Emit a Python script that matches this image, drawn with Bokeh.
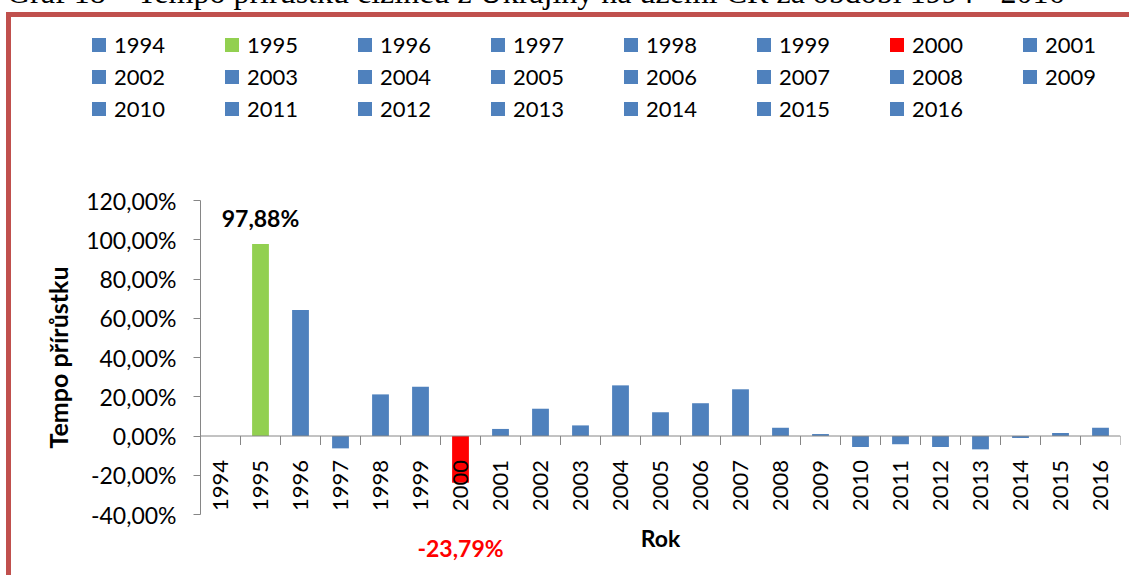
import math
from bokeh.plotting import figure
from bokeh.layouts import column
from bokeh.models import (FactorRange, Range1d, ColumnDataSource, FixedTicker, Span, Div)
from bokeh.core.properties import value
from bokeh.embed import file_html
from bokeh.resources import INLINE

# ---- data ----
caption = "Graf 18 – Tempo přírůstku cizinců z Ukrajiny na území ČR za období 1994 - 2016"
years = [str(y) for y in range(1994, 2017)]
growth = [0.0, 97.88, 64.2, -6.3, 21.2, 25.1, -23.79, 3.6, 13.9, 5.4, 25.8,
          12.1, 16.7, 23.8, 4.2, 1.0, -5.6, -4.2, -5.6, -6.8, -1.0, 1.5, 4.2]
y_ticks = [-40, -20, 0, 20, 40, 60, 80, 100, 120]
y_tick_labels = ["-40,00%", "-20,00%", "0,00%", "20,00%", "40,00%",
                 "60,00%", "80,00%", "100,00%", "120,00%"]
max_year, max_label = "1995", "97,88%"
min_year, min_label = "2000", "-23,79%"
x_title = "Rok"
y_title = "Tempo přírůstku"

# ---- style ----
BLUE, GREEN, RED = "#4F81BD", "#92D050", "#FF0000"
AXIS = "#868686"
BORDER = "5px solid #C0504D"
FONT = "Lato"
colors = [GREEN if y == max_year else RED if y == min_year else BLUE for y in years]

W = 1118
LH = 120                     # legend strip height
H = 438                      # chart height
ML, MR = 189, 9
PX_PER_UNIT = 314 / 160      # vertical scale of the reference
Y_TOP_PX = 63                # canvas y of the top tick
pad_px = H - (Y_TOP_PX + (y_ticks[-1] - y_ticks[0]) * PX_PER_UNIT)
MT = int(round(Y_TOP_PX - pad_px))
y_lo = y_ticks[0] - pad_px / PX_PER_UNIT
y_hi = y_ticks[-1] + pad_px / PX_PER_UNIT

# ---- legend strip (3 rows x 8 columns), HTML ----
NCOLS, COL_PITCH, ROW_PITCH = 8, 133, 32
LX0, LY0, SQ, STANDOFF, ITEM_H = 81, 15, 14, 8, 26
items_html = []
for i, (yr, c) in enumerate(zip(years, colors)):
    x = LX0 + (i % NCOLS) * COL_PITCH
    y = LY0 + (i // NCOLS) * ROW_PITCH
    items_html.append(
        f'<div style="position:absolute;left:{x}px;top:{y}px;height:{ITEM_H}px;'
        f'display:flex;align-items:center;white-space:nowrap;font-family:{FONT};'
        f'font-size:22px;line-height:{ITEM_H}px;color:black;">'
        f'<span style="display:inline-block;width:{SQ}px;height:{SQ}px;background:{c};'
        f'margin-right:{STANDOFF}px;"></span>{yr}</div>')
leg = Div(text=f'<div style="position:relative;width:{W}px;height:{LH}px;">'
               + "".join(items_html) + "</div>",
          width=W, height=LH, styles={"margin": "0", "padding": "0"})

# ---- chart ----
src = ColumnDataSource(dict(year=years, val=growth, color=colors))
p = figure(width=W, height=H, x_range=FactorRange(factors=years, range_padding=0),
           y_range=Range1d(y_lo, y_hi), x_axis_location=None,
           output_backend="svg", toolbar_location=None,
           min_border_left=ML, min_border_right=MR, min_border_top=MT, min_border_bottom=0)
p.outline_line_color = None
p.grid.visible = False

bars = p.vbar(x="year", top="val", width=0.42, fill_color="color", line_color=None, source=src)

# zero line and category ticks
p.add_layout(Span(location=0, dimension="width", line_color=AXIS, line_width=1))
bnd = list(range(1, len(years) + 1))
tick_len = 9 / PX_PER_UNIT
p.segment(x0=bnd, y0=[0] * len(bnd), x1=bnd, y1=[-tick_len] * len(bnd),
          line_color=AXIS, line_width=1)

# category labels at the zero line
p.text(x=years, y=[0] * len(years), text=years, angle=math.pi / 2,
       text_align="right", text_baseline="middle", y_offset=24,
       text_font=value(FONT), text_font_size="22px", text_color="black")

# value labels
p.text(x=[max_year], y=[growth[years.index(max_year)]], text=[max_label],
       text_align="center", text_baseline="middle", y_offset=-26,
       text_font=value(FONT), text_font_size="23px", text_font_style="bold",
       text_color="black")
p.text(x=[min_year], y=[growth[years.index(min_year)]], text=[min_label],
       text_align="center", text_baseline="middle", y_offset=65,
       text_font=value(FONT), text_font_size="23px", text_font_style="bold",
       text_color=RED)

# x title under the category labels
p.text(x=[len(years) / 2], y=[y_ticks[0]], text=[x_title],
       text_align="center", text_baseline="middle", y_offset=23,
       text_font=value(FONT), text_font_size="23px", text_font_style="bold",
       text_color="black")

# y axis
ya = p.yaxis[0]
ya.ticker = FixedTicker(ticks=y_ticks)
ya.bounds = (y_ticks[0], y_ticks[-1])
ya.major_label_overrides = {t: l for t, l in zip(y_ticks, y_tick_labels)}
ya.axis_line_color = AXIS
ya.major_tick_line_color = AXIS
ya.minor_tick_line_color = None
ya.major_tick_out = 7
ya.major_tick_in = 0
ya.major_label_standoff = 17
ya.major_label_text_font = FONT
ya.major_label_text_font_size = "23px"
ya.major_label_text_color = "black"
ya.axis_label = y_title
ya.axis_label_text_font = FONT
ya.axis_label_text_font_size = "25px"
ya.axis_label_text_font_style = "bold"
ya.axis_label_text_color = "black"
ya.axis_label_standoff = 10

layout = column(leg, p, spacing=0,
                styles={"margin-left": "6px", "margin-top": "12px",
                        "border-left": BORDER, "border-top": BORDER})

cap = Div(text=caption, width=1130,
          styles={"position": "absolute", "top": "-29px", "left": "2px",
                  "font-family": "Liberation Serif", "font-size": "32px",
                  "line-height": "32px", "white-space": "nowrap", "color": "black"})

open("out.html", "w").write(file_html([cap, layout], INLINE))
